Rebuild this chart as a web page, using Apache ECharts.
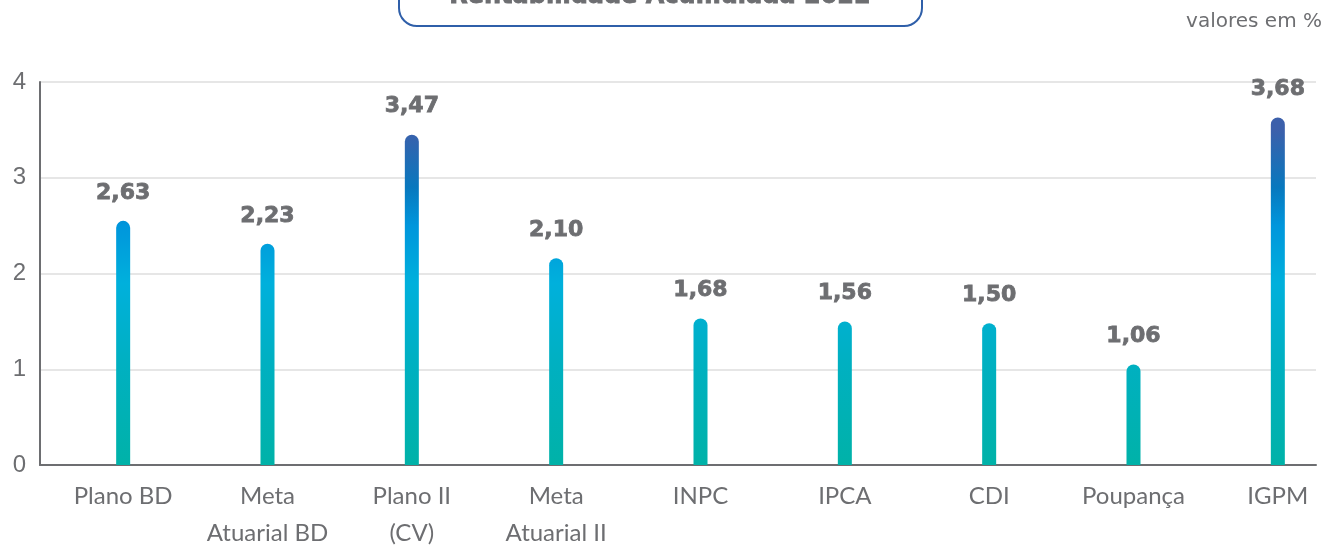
<!DOCTYPE html>
<html>
<head>
<meta charset="utf-8">
<script src="https://cdn.jsdelivr.net/npm/echarts@6/dist/echarts.min.js"></script>
<style>
  html, body { margin: 0; padding: 0; background: #fff; }
  #chart { width: 1326px; height: 546px; }
</style>
</head>
<body>
<div id="chart"></div>
<script>
// categorias e valores
const categories = ['Plano BD', 'Meta\nAtuarial BD', 'Plano II\n(CV)', 'Meta\nAtuarial II', 'INPC', 'IPCA', 'CDI', 'Poupança', 'IGPM']
// altura desenhada de cada barra
const barHeights = [2.55, 2.31, 3.45, 2.16, 1.53, 1.50, 1.48, 1.05, 3.63]
// rótulos impressos acima das barras
const valueLabels = ['2,63', '2,23', '3,47', '2,10', '1,68', '1,56', '1,50', '1,06', '3,68']
const yTicks = [0, 1, 2, 3, 4]

const grey = '#6d6e71'
const yMin = yTicks[0]
const yMax = yTicks[yTicks.length - 1]
const chart = echarts.init(document.getElementById('chart'))

chart.setOption({
  animation: false,
  grid: [
    // eixos visíveis
    { left: 40, right: 10, top: 82, bottom: 81, outerBoundsMode: 'none', containLabel: false },
    // barras (o gráfico original não espaça as barras até o eixo)
    { left: 51, width: 1299, top: 82, bottom: 81, outerBoundsMode: 'none', containLabel: false }
  ],
  graphic: [
    {
      type: 'rect',
      shape: { x: 399, y: -40, width: 523, height: 66, r: 18 },
      style: { fill: '#fff', stroke: '#2f5fa9', lineWidth: 2 }
    },
    {
      type: 'text',
      x: 660, y: 9,
      style: {
        text: 'Rentabilidade Acumulada 2022',
        font: 'bold 24px "DejaVu Sans"',
        fill: grey, stroke: grey, lineWidth: 0.8,
        align: 'center', verticalAlign: 'bottom'
      }
    },
    {
      type: 'text',
      right: 4, top: 12,
      style: { text: 'valores em %', font: '20px "DejaVu Sans"', fill: grey }
    }
  ],
  xAxis: [
    {
      gridIndex: 0,
      type: 'category',
      data: categories,
      axisLine: { lineStyle: { color: grey, width: 2 } },
      axisTick: { show: false },
      axisLabel: { show: false }
    },
    {
      gridIndex: 1,
      type: 'category',
      data: categories,
      axisLine: { show: false },
      axisTick: { show: false },
      axisLabel: {
        color: grey, fontFamily: 'Lato', fontSize: 24, lineHeight: 37, margin: 13,
        interval: 0
      }
    }
  ],
  yAxis: [
    {
      gridIndex: 0,
      type: 'value',
      min: yMin, max: yMax, interval: 1,
      axisLine: { show: true, lineStyle: { color: grey, width: 2 } },
      axisTick: { show: false },
      axisLabel: { color: grey, fontFamily: 'Liberation Sans', fontSize: 24, margin: 14 },
      splitLine: { lineStyle: { color: '#e6e6e6', width: 2 } }
    },
    {
      gridIndex: 1,
      type: 'value',
      min: yMin, max: yMax, interval: 1,
      show: false
    }
  ],
  series: [{
    type: 'bar',
    xAxisIndex: 1,
    yAxisIndex: 1,
    data: barHeights,
    barWidth: 14,
    itemStyle: {
      borderRadius: [7, 7, 0, 0],
      color: new echarts.graphic.LinearGradient(0, 82, 0, 465, [
        { offset: 0.125, color: '#3c60ab' },
        { offset: 0.275, color: '#0878be' },
        { offset: 0.375, color: '#0096dc' },
        { offset: 0.525, color: '#00b0dc' },
        { offset: 0.725, color: '#00b0c2' },
        { offset: 1, color: '#00b2a8' }
      ], true)
    },
    label: {
      show: true, position: 'top', distance: 17,
      formatter: (p) => valueLabels[p.dataIndex],
      color: grey, fontFamily: 'DejaVu Sans', fontWeight: 'bold', fontSize: 22,
      textBorderColor: grey, textBorderWidth: 0.8
    }
  }]
})
</script>
</body>
</html>
